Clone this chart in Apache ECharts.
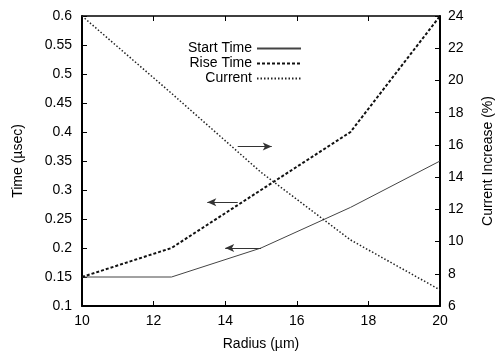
<!DOCTYPE html>
<html>
<head>
<meta charset="utf-8">
<script src="https://cdn.jsdelivr.net/npm/echarts@6/dist/echarts.min.js"></script>
<style>
  html, body { margin: 0; padding: 0; background: #fff; }
  #main { width: 503px; height: 356px; }
</style>
</head>
<body>
<div id="main"></div>
<script>
// data
var radius = [10, 12.5, 15, 17.5, 20];
var startTime = [0.15, 0.15, 0.2, 0.27, 0.35];
var riseTime = [0.15, 0.2, 0.3, 0.4, 0.6];
var currentInc = [24, 19.2, 14.3, 10.1, 7];

// annotation arrows: [x from, x to, y]
var arrowCurrent = [14.35, 15.3, 15.9];
var arrowRise = [14.35, 13.5, 0.279];
var arrowStart = [15.0, 14.0, 0.2];

function pairs(ys) {
  return radius.map(function (x, i) { return [x, ys[i]]; });
}
function arrow(a) {
  return {
    silent: true,
    symbol: ['none', 'arrow'],
    symbolSize: [6, 9],
    label: { show: false },
    lineStyle: { color: '#333', width: 1, type: 'solid' },
    data: [[{ coord: [a[0], a[2]] }, { coord: [a[1], a[2]] }]]
  };
}

var font = 'Liberation Sans, Arial, sans-serif';
var chart = echarts.init(document.getElementById('main'));
var option = {
  animation: false,
  textStyle: { fontFamily: font, color: '#000' },
  grid: { left: 82, right: 53, top: 16, bottom: 49 },
  legend: {
    orient: 'vertical',
    right: 196,
    top: 36,
    align: 'right',
    itemWidth: 44,
    itemHeight: 8,
    itemGap: 0,
    itemStyle: { opacity: 0 },
    textStyle: { fontFamily: font, fontSize: 14, color: '#000', width: 70, align: 'right', lineHeight: 15 },
    data: ['Start Time', 'Rise Time', 'Current']
  },
  xAxis: [{
    type: 'value', min: 10, max: 20, interval: 2,
    name: 'Radius (µm)', nameLocation: 'middle', nameGap: 31,
    nameTextStyle: { fontSize: 14, color: '#000' },
    axisLine: { lineStyle: { color: '#000', width: 2 } },
    axisTick: { inside: true, length: 5, lineStyle: { color: '#000' } },
    axisLabel: { fontSize: 14, color: '#000', margin: 8 },
    splitLine: { show: false }
  }, {
    type: 'value', min: 10, max: 20, interval: 2, position: 'top',
    axisLine: { show: true, lineStyle: { color: '#000', width: 1.5 } },
    axisTick: { inside: true, length: 5, lineStyle: { color: '#000' } },
    axisLabel: { show: false },
    splitLine: { show: false }
  }],
  yAxis: [{
    type: 'value', min: 0.1, max: 0.6, interval: 0.05,
    name: 'Time (µsec)', nameLocation: 'middle', nameGap: 57, nameRotate: 90,
    nameTextStyle: { fontSize: 14, color: '#000' },
    axisLine: { show: true, lineStyle: { color: '#000', width: 2 } },
    axisTick: { inside: true, length: 5, lineStyle: { color: '#000' } },
    axisLabel: { fontSize: 14, color: '#000', margin: 10,
      formatter: function (v) { return String(+v.toFixed(2)); } },
    splitLine: { show: false }
  }, {
    type: 'value', min: 6, max: 24, interval: 2, position: 'right',
    name: 'Current Increase (%)', nameLocation: 'middle', nameGap: 41, nameRotate: 90,
    nameTextStyle: { fontSize: 14, color: '#000' },
    axisLine: { show: true, lineStyle: { color: '#000', width: 2 } },
    axisTick: { inside: true, length: 5, lineStyle: { color: '#000' } },
    axisLabel: { fontSize: 14, color: '#000', margin: 8 },
    splitLine: { show: false }
  }],
  series: [{
    name: 'Start Time', type: 'line', xAxisIndex: 0, yAxisIndex: 0,
    data: pairs(startTime), symbol: 'none',
    lineStyle: { color: '#444', width: 1, type: 'solid' },
    itemStyle: { color: '#444' },
    markLine: arrow(arrowStart)
  }, {
    name: 'Rise Time', type: 'line', xAxisIndex: 0, yAxisIndex: 0,
    data: pairs(riseTime), symbol: 'none',
    lineStyle: { color: '#111', width: 2, type: [3, 2] },
    itemStyle: { color: '#111' },
    markLine: arrow(arrowRise)
  }, {
    name: 'Current', type: 'line', xAxisIndex: 0, yAxisIndex: 1,
    data: pairs(currentInc), symbol: 'none',
    lineStyle: { color: '#222', width: 1.5, type: [1.5, 2] },
    itemStyle: { color: '#222' },
    markLine: arrow(arrowCurrent)
  }]
};
chart.setOption(option);
</script>
</body>
</html>
